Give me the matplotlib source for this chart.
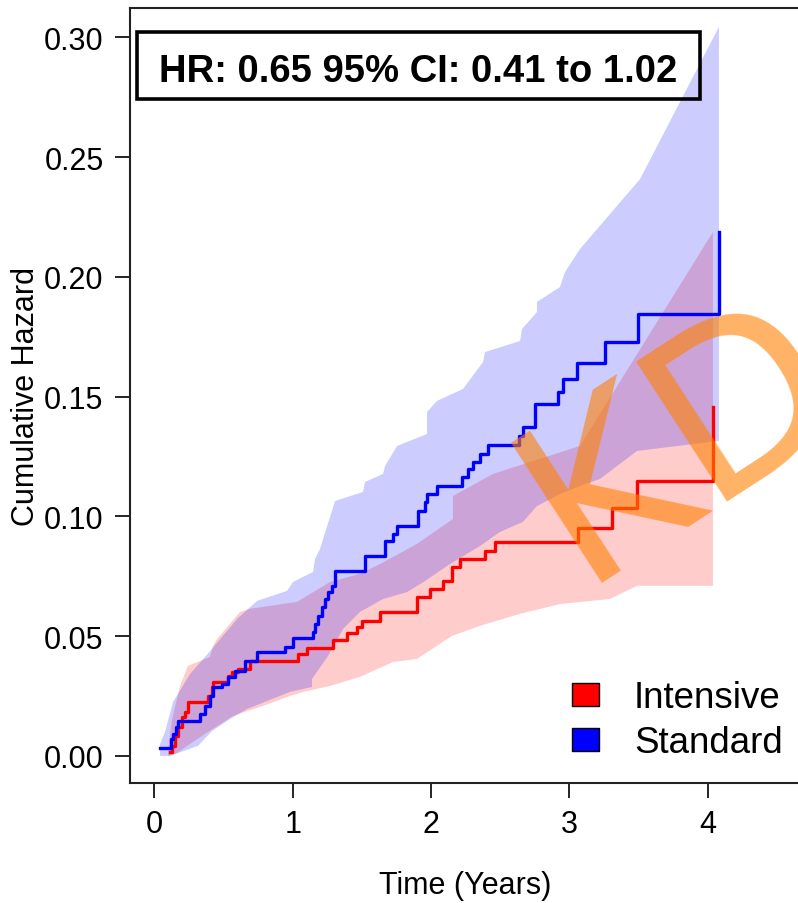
import numpy as np
import matplotlib
matplotlib.use('Agg')
import matplotlib.pyplot as plt
from matplotlib.patches import Rectangle

plt.rcParams['font.family'] = ['Liberation Sans', 'DejaVu Sans']

groups = ['Intensive', 'Standard']
colors = ['#FF0000', '#0000FF']
hr_label = 'HR: 0.65 95% CI: 0.41 to 1.02'

# cumulative hazard step curves (time in years)
intensive_time = [0.114, 0.128, 0.150, 0.171, 0.200, 0.223, 0.243, 0.388, 0.417, 0.424,
                  0.533, 0.561, 0.605, 0.690, 1.040, 1.100, 1.290, 1.390, 1.465, 1.500,
                  1.630, 1.898, 1.990, 2.086, 2.150, 2.208, 2.390, 2.462, 3.062, 3.307,
                  3.488, 4.037]
intensive_cumhaz = [0.0017, 0.0042, 0.0083, 0.0121, 0.0163, 0.0184, 0.0225, 0.0250, 0.0288, 0.0309,
                    0.0334, 0.0350, 0.0363, 0.0396, 0.0426, 0.0451, 0.0484, 0.0513, 0.0538, 0.0563,
                    0.0601, 0.0664, 0.0697, 0.0730, 0.0789, 0.0822, 0.0856, 0.0893, 0.0952, 0.1035,
                    0.1148, 0.1457]

standard_time = [0.042, 0.120, 0.135, 0.157, 0.171, 0.330, 0.366, 0.400, 0.425, 0.490,
                 0.530, 0.583, 0.655, 0.740, 0.944, 1.000, 1.147, 1.160, 1.180, 1.210,
                 1.234, 1.255, 1.284, 1.306, 1.523, 1.667, 1.725, 1.754, 1.905, 1.956,
                 1.970, 2.043, 2.223, 2.266, 2.300, 2.353, 2.410, 2.635, 2.664, 2.750,
                 2.917, 2.953, 3.054, 3.257, 3.495, 4.080]
standard_cumhaz = [0.0033, 0.0071, 0.0092, 0.0121, 0.0146, 0.0175, 0.0209, 0.0250, 0.0288, 0.0300,
                   0.0330, 0.0355, 0.0396, 0.0434, 0.0455, 0.0492, 0.0518, 0.0550, 0.0584, 0.0622,
                   0.0655, 0.0684, 0.0710, 0.0772, 0.0835, 0.0897, 0.0927, 0.0960, 0.1023, 0.1060,
                   0.1093, 0.1127, 0.1164, 0.1198, 0.1227, 0.1260, 0.1298, 0.1336, 0.1373, 0.1469,
                   0.1519, 0.1573, 0.1640, 0.1728, 0.1845, 0.2187]

# confidence bands
intensive_up_time = [0.100, 0.128, 0.186, 0.243, 0.402, 0.424, 0.453, 0.619, 0.691, 1.031,
                     1.270, 1.486, 1.631, 1.898, 2.158, 2.158, 2.447, 3.076, 4.037]
intensive_up = [0.0029, 0.0154, 0.0292, 0.0376, 0.0413, 0.0459, 0.0488, 0.0601, 0.0614, 0.0643,
                0.0726, 0.0760, 0.0801, 0.0885, 0.0989, 0.1085, 0.1177, 0.1294, 0.2187]
intensive_lo_time = [0.100, 0.151, 0.366, 0.568, 0.785, 0.980, 1.074, 1.270, 1.486, 1.725,
                     1.898, 2.151, 2.353, 2.642, 2.931, 3.292, 3.488, 4.037]
intensive_lo = [0.0000, 0.0008, 0.0092, 0.0167, 0.0209, 0.0250, 0.0267, 0.0292, 0.0330, 0.0392,
                0.0405, 0.0501, 0.0543, 0.0593, 0.0634, 0.0655, 0.0710, 0.0710]

standard_up_time = [0.041, 0.077, 0.135, 0.258, 0.417, 0.598, 0.742, 0.959, 1.002, 1.147,
                    1.161, 1.197, 1.306, 1.508, 1.523, 1.653, 1.667, 1.754, 1.971, 1.971,
                    2.043, 2.231, 2.375, 2.390, 2.643, 2.657, 2.765, 2.765, 2.931, 2.968,
                    3.076, 3.510, 4.080]
standard_up = [0.0050, 0.0100, 0.0225, 0.0342, 0.0447, 0.0572, 0.0647, 0.0689, 0.0726, 0.0768,
               0.0822, 0.0864, 0.1064, 0.1102, 0.1144, 0.1177, 0.1210, 0.1294, 0.1344, 0.1436,
               0.1482, 0.1532, 0.1644, 0.1686, 0.1732, 0.1782, 0.1853, 0.1895, 0.1957, 0.2020,
               0.2116, 0.2408, 0.3043]
standard_lo_time = [0.041, 0.113, 0.316, 0.417, 0.547, 0.670, 0.980, 1.139, 1.139, 1.255,
                    1.364, 1.486, 1.653, 1.827, 1.956, 2.136, 2.353, 2.498, 2.664, 2.765,
                    2.931, 3.076, 3.220, 3.488, 4.080]
standard_lo = [0.0000, 0.0000, 0.0042, 0.0104, 0.0154, 0.0196, 0.0267, 0.0288, 0.0321, 0.0417,
               0.0530, 0.0601, 0.0655, 0.0684, 0.0730, 0.0801, 0.0876, 0.0935, 0.0977, 0.1043,
               0.1093, 0.1127, 0.1156, 0.1273, 0.1315]

W, H = 798, 904
fig = plt.figure(figsize=(W / 100, H / 100), dpi=100)
ax = fig.add_axes([130 / W, 1 - 784 / H, 670 / W, 775 / H])

bands = [(intensive_up_time, intensive_up, intensive_lo_time, intensive_lo),
         (standard_up_time, standard_up, standard_lo_time, standard_lo)]
curves = [(intensive_time, intensive_cumhaz), (standard_time, standard_cumhaz)]

for (ut, uv, lt, lv), (t, h), c in zip(bands, curves, colors):
    xs = np.r_[ut, lt[::-1]]
    ys = np.r_[uv, lv[::-1]]
    ax.fill(xs, ys, color=c, alpha=0.2, lw=0)
    ax.plot(t, h, drawstyle='steps-post', color=c, lw=2.4)

ax.set_xlim(-0.176, 4.666)
ax.set_ylim(-0.0113, 0.3122)
ax.set_xticks([0, 1, 2, 3, 4])
ax.set_yticks(np.arange(0, 0.31, 0.05))
ax.set_yticklabels(['%.2f' % v for v in np.arange(0, 0.31, 0.05)])
ax.tick_params(direction='out', length=11, width=1.2, labelsize=22, pad=8)
for s in ax.spines.values():
    s.set_linewidth(1.5)
    s.set_color('#222222')
ax.set_xlabel('Time (Years)', fontsize=22, labelpad=22)
ax.set_ylabel('Cumulative Hazard', fontsize=22, labelpad=2)

# HR box
fig.patches.append(Rectangle((137 / W, 1 - 100 / H), 563 / W, 67 / H, transform=fig.transFigure,
                             facecolor='none', edgecolor='black', lw=2.6))
fig.text(159 / W, 1 - 82 / H, hr_label, fontsize=27.5, fontweight='bold', va='baseline')

# legend
for i, (g, c) in enumerate(zip(groups, colors)):
    top = 684 + i * 45
    fig.patches.append(Rectangle((572 / W, 1 - (top + 23) / H), 27 / W, 23 / H,
                                 transform=fig.transFigure, facecolor=c, edgecolor='black', lw=1))
    fig.text(634 / W, 1 - (top + 24) / H, g, fontsize=26.5, va='baseline')

# watermark
fig.text(580 / W, 1 - 583 / H, 'KD', fontsize=165, color='#FF8000', alpha=0.6,
         rotation=33, rotation_mode='anchor', ha='left', va='baseline', family='DejaVu Sans')

fig.savefig('out.png', dpi=100)
